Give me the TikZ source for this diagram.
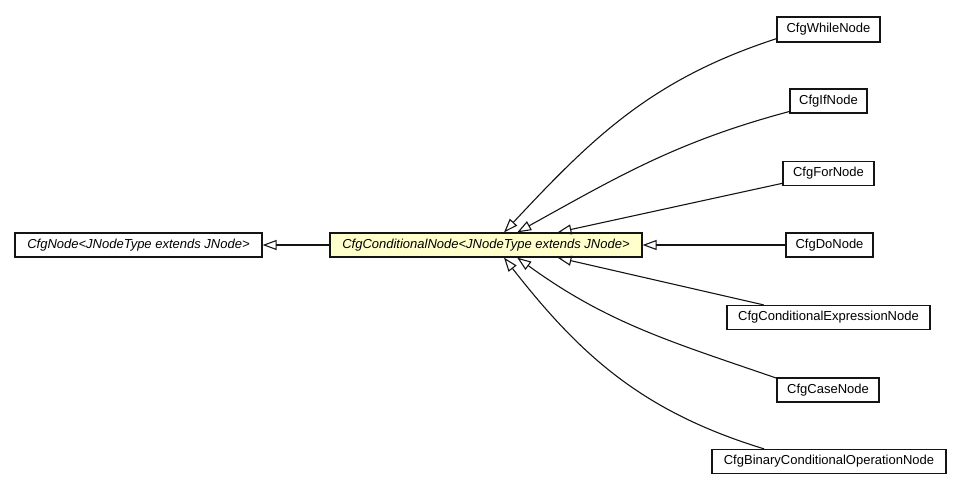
\documentclass[tikz,border=0pt]{standalone}
\usepackage{fontspec}
\setmainfont{Liberation Sans}
\usepackage{xcolor}
\usepackage{tikz}
\usetikzlibrary{arrows.meta}
\definecolor{umlYellow}{RGB}{255,255,204}
\definecolor{umlLine}{RGB}{20,20,20}

\begin{document}
\begin{tikzpicture}[x=1pt,y=-1pt,
  cls/.style={draw=umlLine, line width=1.2pt, fill=white, inner sep=0pt,
    minimum height=24pt, font=\fontsize{13}{15}\selectfont},
  ext/.style={draw=umlLine, line width=1.1pt,
    -{Triangle[open,length=14pt,width=10pt]}}]
\useasboundingbox (0,0) rectangle (961,491);

% superclass and the conditional node
\node[cls, minimum width=247pt] (base) at (138.5,245) {\itshape CfgNode<JNodeType extends JNode>};
\node[cls, fill=umlYellow, minimum width=312pt] (cond) at (486,245) {\itshape CfgConditionalNode<JNodeType extends JNode>};

% subclasses
\node[cls, minimum width=103pt, minimum height=25pt] (while) at (828.5,29.5) {CfgWhileNode};
\node[cls, minimum width=77pt] (if) at (828.5,101) {CfgIfNode};
\node[cls, minimum width=91pt] (for) at (828.5,173.5) {CfgForNode};
\node[cls, minimum width=87pt] (do) at (829.5,245) {CfgDoNode};
\node[cls, minimum width=203pt] (condexpr) at (828.5,317.5) {CfgConditionalExpressionNode};
\node[cls, minimum width=102pt] (case) at (828,390) {CfgCaseNode};
\node[cls, minimum width=234pt] (binary) at (829,461.5) {CfgBinaryConditionalOperationNode};

% generalisation arrows
\draw[ext] (cond.west) -- (base.east);
\draw[ext] (while.190) to[out=198,in=47] (cond.35);
\draw[ext] (if.195) to[out=195,in=29] (cond.22);
\draw[ext] (for.192) -- (cond.10);
\draw[ext] (do.west) -- (cond.east);
\draw[ext] (condexpr.169) -- (cond.-10);
\draw[ext] (case.167) to[out=161,in=-36] (cond.-22);
\draw[ext] (binary.169) to[out=163,in=-52] (cond.-35);
\end{tikzpicture}
\end{document}
